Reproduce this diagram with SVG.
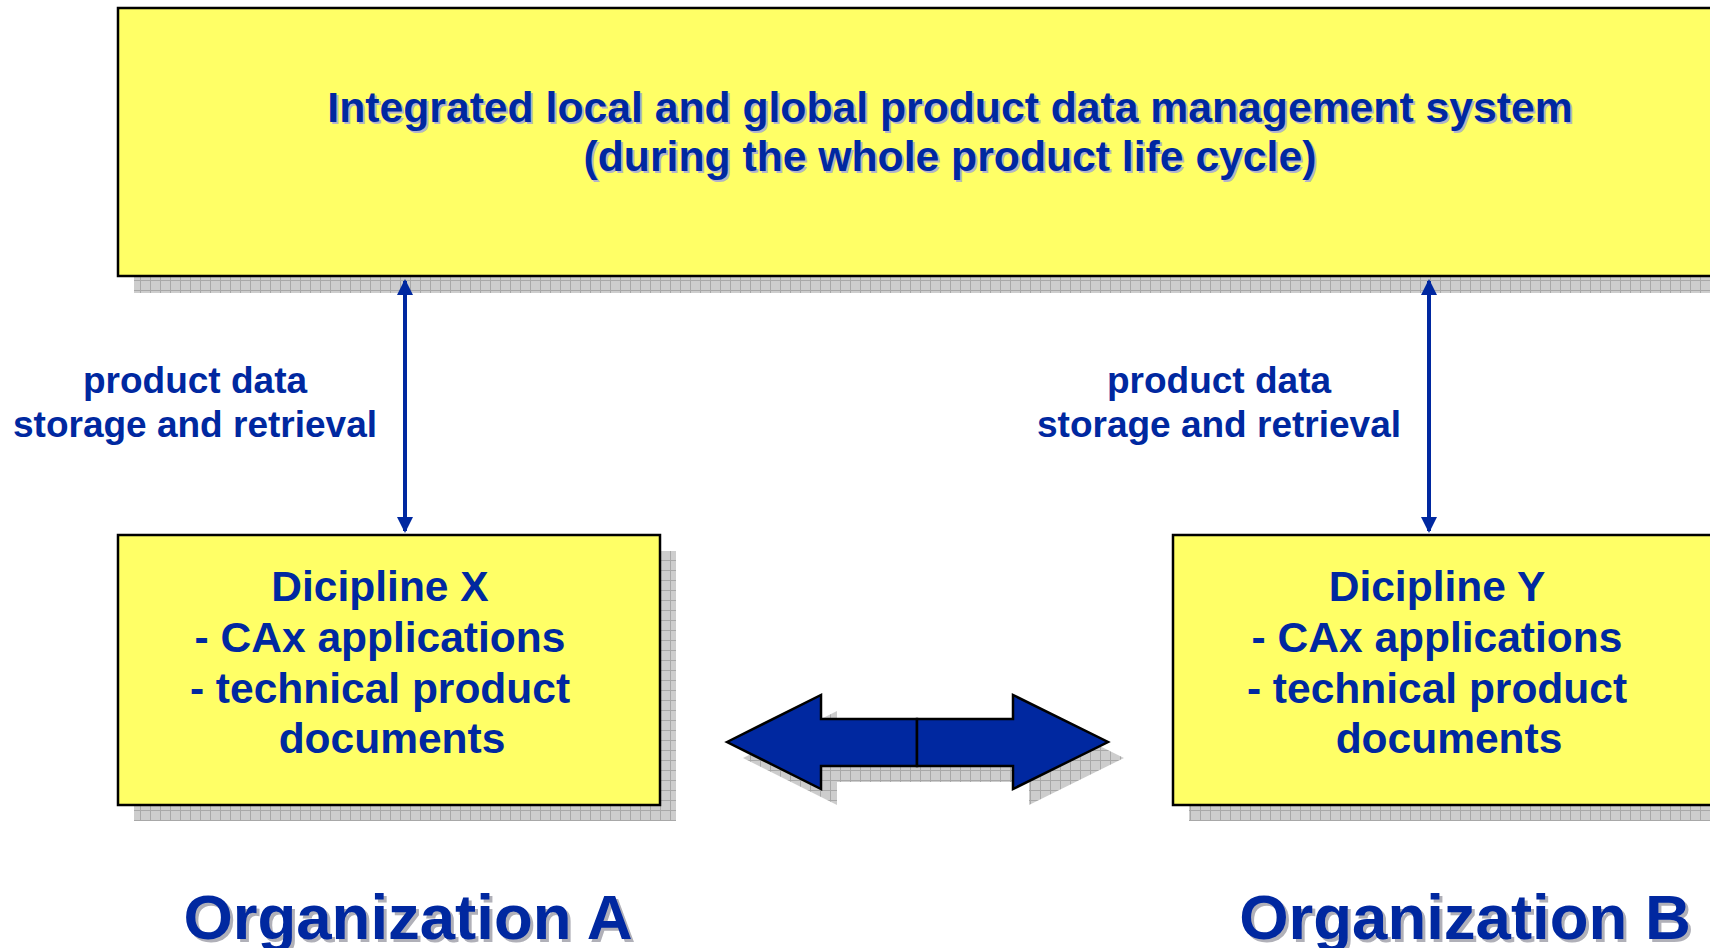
<svg xmlns="http://www.w3.org/2000/svg" width="1710" height="948" viewBox="0 0 1710 948">
<style>
.t{font-family:"Liberation Sans",Arial,sans-serif;font-weight:bold;fill:#0028A0;text-anchor:middle}
.sh{fill:#b4b4c8}
.box{fill:#FFFF66;stroke:#000;stroke-width:2.5}
.shadow{fill:url(#grid)}
.conn{stroke:#0028A0;stroke-width:4;fill:none;marker-start:url(#ah);marker-end:url(#ah)}
.big{fill:#0028A0;stroke:#000;stroke-width:2.5;stroke-linejoin:miter}
</style>
<defs>
<pattern id="grid" patternUnits="userSpaceOnUse" width="10" height="10">
<rect width="10" height="10" fill="#cdcdcd"/>
<path d="M0,0.5H10M0.5,0V10" stroke="#a8a8a8" stroke-width="1"/>
</pattern>
<marker id="ah" viewBox="0 0 16 16" refX="14" refY="8" markerWidth="16" markerHeight="16" markerUnits="userSpaceOnUse" orient="auto-start-reverse">
<path d="M0,0L16,8L0,16z" fill="#0028A0"/>
</marker>
</defs>
<g id="top-system">
<rect class="shadow" x="134" y="24" width="1700" height="269"/>
<rect class="box" x="118" y="8" width="1700" height="268"/>
<text class="t sh" font-size="42.7" x="952" y="124">Integrated local and global product data management system</text>
<text class="t sh" font-size="42.7" x="952" y="173">(during the whole product life cycle)</text>
<text class="t" font-size="42.7" x="950" y="122">Integrated local and global product data management system</text>
<text class="t" font-size="42.7" x="950" y="171">(during the whole product life cycle)</text>
</g>
<g id="discipline-x">
<rect class="shadow" x="134" y="551" width="542" height="270"/>
<rect class="box" x="118" y="535" width="542" height="270"/>
<text class="t" font-size="42.5" x="380" y="601">Dicipline X</text>
<text class="t" font-size="42.5" x="380" y="652">- CAx applications</text>
<text class="t" font-size="42.5" x="380" y="703">- technical product</text>
<text class="t" font-size="42.5" x="392" y="753">documents</text>
</g>
<g id="discipline-y">
<rect class="shadow" x="1189" y="551" width="600" height="270"/>
<rect class="box" x="1173" y="535" width="600" height="270"/>
<text class="t" font-size="42.5" x="1437" y="601">Dicipline Y</text>
<text class="t" font-size="42.5" x="1437" y="652">- CAx applications</text>
<text class="t" font-size="42.5" x="1437" y="703">- technical product</text>
<text class="t" font-size="42.5" x="1449" y="753">documents</text>
</g>
<g id="exchange-arrow">
<polygon class="shadow" points="743,758 837,711 837,735 933,735 933,782 837,782 837,805"/>
<polygon class="shadow" points="933,735 1029,735 1029,711 1124,758 1029,805 1029,782 933,782"/>
<polygon class="big" points="727,742 821,695 821,719 917,719 917,766 821,766 821,789"/>
<polygon class="big" points="917,719 1013,719 1013,695 1108,742 1013,789 1013,766 917,766"/>
</g>
<g id="label-left">
<text class="t" font-size="37" x="195" y="393">product data</text>
<text class="t" font-size="37" x="195" y="437">storage and retrieval</text>
</g>
<g id="label-right">
<text class="t" font-size="37" x="1219" y="393">product data</text>
<text class="t" font-size="37" x="1219" y="437">storage and retrieval</text>
</g>
<g id="org-a">
<text class="t" font-size="63.5" x="411" y="942" fill="#b0b0b0" style="fill:#b0b0b8">Organization A</text>
<text class="t" font-size="63.5" x="408" y="939">Organization A</text>
</g>
<g id="org-b">
<text class="t" font-size="63.5" x="1468" y="942" style="fill:#b0b0b8">Organization B</text>
<text class="t" font-size="63.5" x="1465" y="939">Organization B</text>
</g>
<g id="connectors">
<path class="conn" d="M405,281V531"/>
<path class="conn" d="M1429,281V531"/>
</g>
</svg>
